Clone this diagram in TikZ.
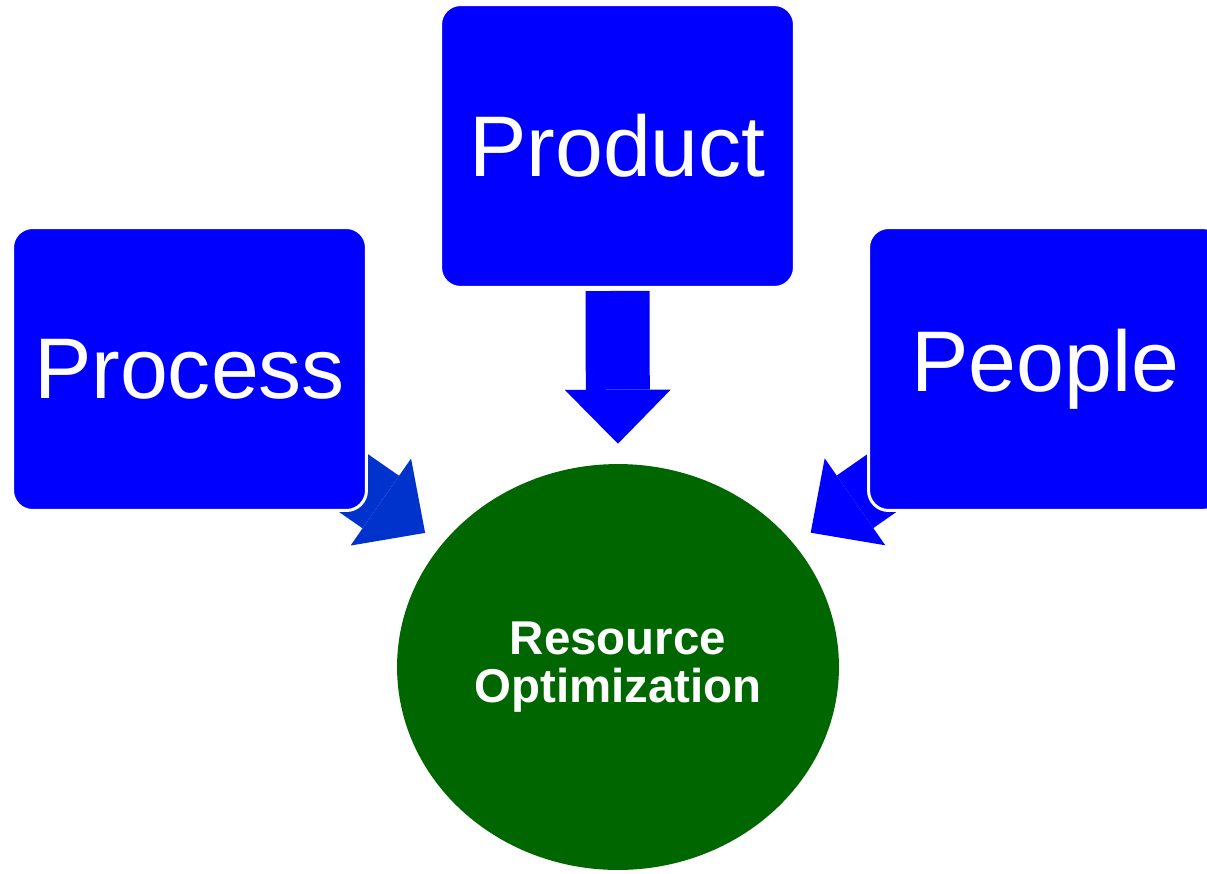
\documentclass[tikz,border=0pt]{standalone}
\usepackage{fontspec}
\setmainfont{Liberation Sans}
\usepackage{xcolor}
\usetikzlibrary{positioning, arrows.meta, shapes.geometric, backgrounds}

\definecolor{pillarblue}{RGB}{0,0,255}
\definecolor{feedblue}{RGB}{0,51,204}
\definecolor{goalgreen}{RGB}{0,102,0}

\begin{document}
\begin{tikzpicture}[
    x=0.02cm, y=-0.02cm, % 1 unit = 1 px of the page
    pillar/.style={rectangle, fill=pillarblue, draw=white, line width=0.06cm, rounded corners=0.4cm, minimum width=7.08cm, minimum height=5.66cm, inner sep=0pt, text=white, font=\fontsize{49}{59}\selectfont},
    goal/.style={ellipse, fill=goalgreen, minimum width=8.84cm, minimum height=8.12cm, inner sep=0pt, text=white, align=center, font=\bfseries\fontsize{27}{27}\selectfont},
    feed/.style={draw=pillarblue, line width=1.28cm, -{Triangle[length=1.08cm, width=2.12cm, line width=0pt]}, shorten >=0.4cm}
]
\useasboundingbox (0,0) rectangle (1207,873);

% Tujuan di tengah
\node[goal] (optim) at (618,667) {Resource\\Optimization};

% Tiga kotak
\node[pillar] (process) at (189.5,369) {Process};
\node[pillar] (product) at (617.5,146) {Product};
\node[pillar] (people) at (1045.5,369) {People};

% Panah ke tujuan (di belakang kotak)
\begin{pgfonlayer}{background}
\draw[feed, draw=feedblue] (process.center) -- (optim);
\draw[feed, shorten <=0.04cm] (product.south) -- (optim.north);
\draw[feed] (people.center) -- (optim);
\end{pgfonlayer}

\end{tikzpicture}
\end{document}
